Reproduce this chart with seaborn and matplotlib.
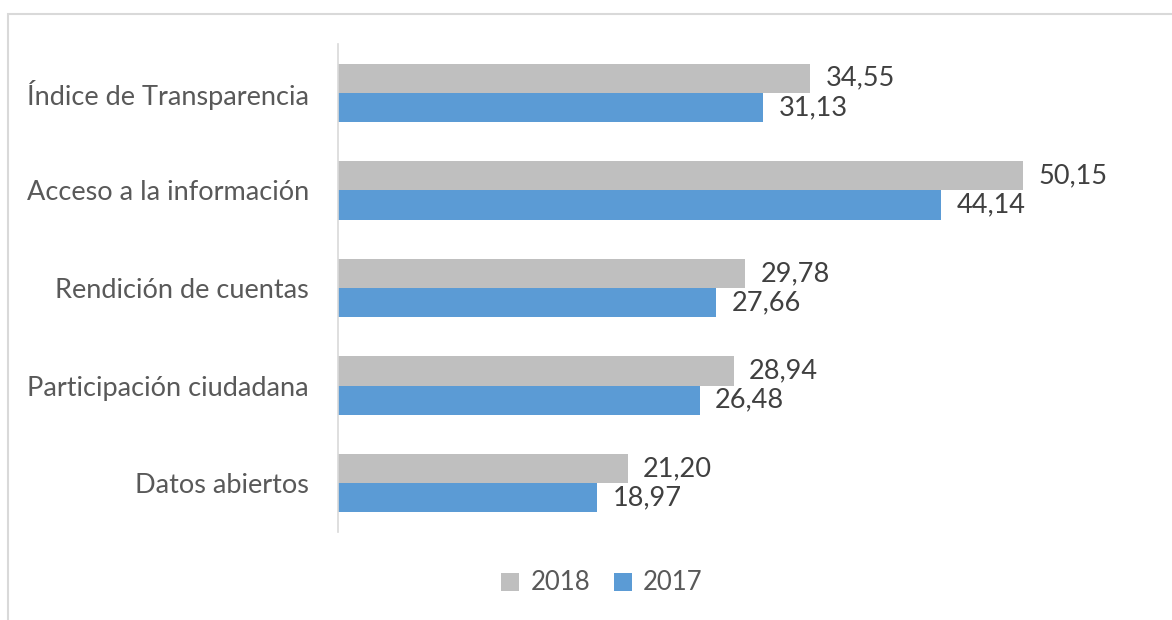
import pandas as pd
import matplotlib.pyplot as plt
import seaborn as sns
from matplotlib.patches import Rectangle

# datos del gráfico
categorias = ['Índice de Transparencia', 'Acceso a la información',
              'Rendición de cuentas', 'Participación ciudadana', 'Datos abiertos']
valores_2018 = [34.55, 50.15, 29.78, 28.94, 21.20]
valores_2017 = [31.13, 44.14, 27.66, 26.48, 18.97]
anios = ['2018', '2017']
colores = {'2018': '#bfbfbf', '2017': '#5b9bd5'}

df = pd.DataFrame({
    'categoria': categorias * 2,
    'valor': valores_2018 + valores_2017,
    'anio': [anios[0]] * len(categorias) + [anios[1]] * len(categorias),
})

sns.set_style('white')
plt.rcParams['font.family'] = ['Lato', 'DejaVu Sans']
fs = 19.5

fig = plt.figure(figsize=(11.72, 6.2), dpi=100)
ax = fig.add_axes([338 / 1172, 1 - 532 / 620, (1158 - 338) / 1172, (532 - 44) / 620])

sns.barplot(data=df, y='categoria', x='valor', hue='anio', hue_order=anios,
            palette=colores, orient='h', width=0.6, ax=ax, saturation=1,
            edgecolor='none')

for cont in ax.containers:
    ax.bar_label(cont, labels=[f'{v:.2f}'.replace('.', ',') for v in cont.datavalues],
                 padding=11, fontsize=fs, color='#404040')

ax.set_xlim(0, 60)
ax.set_xlabel('')
ax.set_ylabel('')
ax.set_xticks([])
ax.tick_params(axis='y', length=0, pad=21, labelsize=fs, labelcolor='#595959')
for s in ['top', 'right', 'bottom']:
    ax.spines[s].set_visible(False)
ax.spines['left'].set_color('#d9d9d9')
ax.spines['left'].set_linewidth(1.2)

ax.legend_.remove()
handles, labels = ax.get_legend_handles_labels()
fig.legend(handles, labels, loc='center', bbox_to_anchor=(602 / 1172, 1 - 583 / 620),
           ncol=2, frameon=False, fontsize=18.5, handlelength=0.7, handleheight=0.7,
           handletextpad=0.45, columnspacing=0.9, labelcolor='#595959')

# borde del área del gráfico
fig.patches.append(Rectangle((8 / 1172, -0.1), 1.2, 1 - 14 / 620 + 0.1,
                             transform=fig.transFigure, fill=False,
                             edgecolor='#d9d9d9', linewidth=1.5))

fig.savefig('out.png', dpi=100)
